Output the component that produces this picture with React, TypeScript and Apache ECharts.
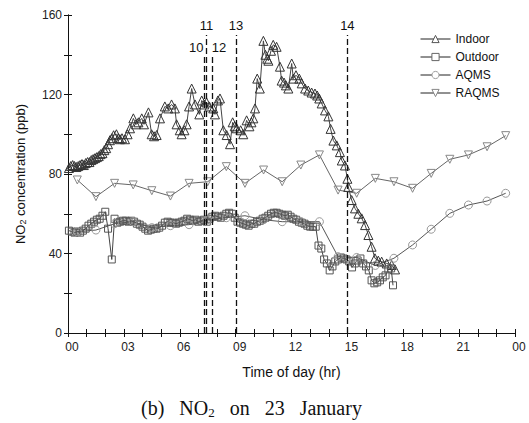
import React, { useEffect, useRef } from "react";
import * as echarts from "echarts";

// time of day (h), NO2 (ppb)
const indoor: [number, number][] = [
  [0.05, 83], [0.15, 84], [0.25, 84.5], [0.35, 84], [0.45, 83.5], [0.55, 84], [0.65, 84.5], [0.75, 85],
  [0.85, 84.5], [0.95, 85.5], [1.05, 86], [1.15, 86], [1.25, 87], [1.35, 87.5], [1.45, 88], [1.55, 88.5],
  [1.65, 89], [1.75, 90], [1.85, 90.5], [1.95, 92], [2.05, 93], [2.15, 95], [2.25, 97], [2.35, 98],
  [2.45, 99.5], [2.6, 100], [2.7, 98], [2.79, 97.5], [2.9, 98], [3.06, 97.5], [3.2, 100], [3.33, 103],
  [3.51, 108], [3.65, 105], [3.78, 106], [3.96, 108], [4.08, 105], [4.32, 111], [4.49, 100], [4.62, 99],
  [4.76, 99.6], [4.94, 108], [5.2, 114], [5.38, 113], [5.56, 115], [5.74, 113], [5.83, 105], [6.0, 102],
  [6.1, 100], [6.25, 102], [6.37, 105], [6.5, 114], [6.64, 123], [6.82, 115], [7.05, 110], [7.18, 117],
  [7.32, 115], [7.44, 116], [7.59, 114], [7.8, 113], [7.89, 110], [8.05, 117], [8.16, 118], [8.34, 102],
  [8.52, 99.6], [8.7, 95], [8.84, 106], [8.95, 104], [9.06, 103], [9.27, 102], [9.41, 100], [9.59, 107],
  [9.74, 104], [9.85, 106], [9.95, 108], [10.04, 113], [10.16, 128], [10.3, 123], [10.49, 147], [10.6, 140],
  [10.7, 138], [10.76, 137], [10.9, 142], [11.02, 145], [11.2, 144], [11.38, 134], [11.47, 127], [11.6, 126],
  [11.7, 124.6], [11.83, 123], [12.01, 135.6], [12.1, 128], [12.24, 129.7], [12.42, 128], [12.55, 125.6],
  [12.73, 123], [12.9, 122], [13.08, 121], [13.26, 120.5], [13.38, 119.5], [13.49, 118], [13.62, 115.5],
  [13.8, 112], [13.98, 109], [14.1, 102.7], [14.25, 96.8], [14.43, 94.4], [14.6, 91], [14.7, 86.8],
  [14.87, 84.3], [15.0, 77.6], [15.05, 73.5], [15.23, 66.9], [15.41, 62.7], [15.59, 60], [15.77, 57.7],
  [15.95, 54.3], [16.13, 49.3], [16.3, 43.4], [16.48, 37.6], [16.66, 36.4], [16.84, 35.9], [17.11, 35],
  [17.38, 34.2], [17.56, 32],
];

const outdoor: [number, number][] = [
  [0.05, 51.5], [0.2, 51], [0.35, 50.5], [0.5, 51], [0.65, 50.5], [0.8, 51.5], [0.95, 52.5], [1.1, 54],
  [1.25, 55], [1.4, 56], [1.55, 57], [1.7, 57.5], [1.85, 59], [2.0, 61], [2.15, 52.5], [2.35, 37],
  [2.5, 57.5], [2.65, 55.5], [2.8, 56], [2.95, 56.5], [3.1, 56.5], [3.25, 56], [3.4, 56.5], [3.55, 56],
  [3.7, 55], [3.85, 54.5], [4.0, 53.5], [4.15, 52.5], [4.3, 51.5], [4.45, 52], [4.6, 52.5], [4.75, 52.5],
  [4.9, 53], [5.05, 54], [5.2, 55.5], [5.35, 56], [5.5, 55.5], [5.65, 55.5], [5.8, 55], [5.95, 55.5],
  [6.1, 56], [6.25, 56.5], [6.4, 57.5], [6.55, 57], [6.7, 56.5], [6.85, 57], [7.0, 56], [7.15, 56.5],
  [7.3, 57], [7.45, 56], [7.6, 57.5], [7.75, 58.5], [7.9, 59], [8.05, 58.5], [8.2, 58], [8.35, 59],
  [8.5, 60], [8.65, 60.5], [8.8, 60], [8.95, 58], [9.1, 56], [9.25, 55.5], [9.4, 55], [9.55, 54.5],
  [9.7, 54], [9.85, 55], [10.0, 55], [10.15, 56], [10.3, 56.5], [10.45, 57.5], [10.6, 58], [10.75, 59],
  [10.9, 60], [11.05, 60.5], [11.2, 60.5], [11.35, 60], [11.5, 59.5], [11.65, 59], [11.8, 59.5],
  [11.95, 58.5], [12.1, 57.5], [12.25, 57], [12.4, 56], [12.55, 55.5], [12.7, 55], [12.85, 54],
  [13.0, 53.5], [13.15, 53.5], [13.3, 53.5], [13.45, 44], [13.6, 42.5], [13.75, 37], [13.9, 35],
  [14.05, 31.5], [14.2, 33.5], [14.35, 36], [14.5, 37], [14.65, 38], [14.8, 37.5], [14.95, 37],
  [15.1, 36], [15.25, 33], [15.4, 35], [15.55, 36.5], [15.7, 37.5], [15.85, 35], [16.0, 33.5],
  [16.15, 31.5], [16.3, 26.5], [16.45, 25], [16.6, 25.5], [16.75, 26.5], [16.9, 28], [17.05, 29],
  [17.2, 32], [17.35, 32.5], [17.45, 24],
];

const aqms: [number, number][] = [
  [0.5, 51], [1.5, 51.8], [2.5, 55], [3.5, 56], [4.5, 53], [5.5, 54], [6.5, 54.5], [7.5, 57],
  [8.5, 58], [9.5, 59], [10.5, 57], [11.5, 56], [12.5, 56], [13.5, 56], [14.5, 38.4], [15.5, 38],
  [16.5, 34], [17.5, 37.6], [18.5, 44.3], [19.5, 52.2], [20.5, 60.2], [21.5, 64.4], [22.5, 66.4],
  [23.5, 70.3],
];

const raqms: [number, number][] = [
  [0.5, 77], [1.5, 68.6], [2.5, 75.3], [3.5, 74.5], [4.5, 71.6], [5.5, 68.9], [6.5, 75.3], [7.5, 76.1],
  [8.5, 83.7], [9.5, 75.3], [10.5, 82], [11.5, 76.1], [12.5, 84.5], [13.5, 89.6], [14.5, 71.9],
  [15.5, 70.3], [16.5, 77.8], [17.5, 76.1], [18.5, 72.8], [19.5, 80.3], [20.5, 87.4], [21.5, 89.6],
  [22.5, 93.7], [23.5, 99.3],
];

// vertical event markers: label, time (h), top of line (ppb)
const eventLabels = ["10", "11", "12", "13", "14"];
const eventTimes = [7.32, 7.44, 7.73, 9.02, 15.0];
const eventTops = [139, 150, 139, 150, 150];
const eventLabelPad = [[0, 16, 0, 0], [0, 0, 0, 0], [0, 0, 0, 14], [0, 0, 0, 0], [0, 0, 0, 0]];

const seriesNames = ["Indoor", "Outdoor", "AQMS", "RAQMS"];
const markerBorders = ["#555", "#666", "#999", "#888"];
const xTickLabels = ["00", "03", "06", "09", "12", "15", "18", "21", "00"];
const yTickLabels = ["0", "40", "80", "120", "160"];

export default function App() {
  const ref = useRef<HTMLDivElement>(null);
  useEffect(() => {
    if (!ref.current) return;
    const chart = echarts.init(ref.current, undefined, { renderer: "svg" });
    const font = "Liberation Sans, Arial, sans-serif";
    const clear = "rgba(255,255,255,0)";
    const markLineData = eventTimes.map((t, i) => [
      { coord: [t, 0] },
      {
        coord: [t, eventTops[i]],
        label: {
          show: true,
          position: "end",
          formatter: eventLabels[i],
          padding: eventLabelPad[i],
          distance: 3,
          color: "#111",
          fontSize: 13,
          fontFamily: font,
        },
      },
    ]);
    const mk = (name: string, data: any, symbol: string, size: number, border: string, line: string, rotate = 0, extra: any = {}) => ({
      name,
      type: "line",
      data,
      symbol,
      symbolSize: size,
      symbolRotate: rotate,
      showAllSymbol: true,
      color: line,
      lineStyle: { color: line, width: 1 },
      itemStyle: { color: clear, borderColor: border, borderWidth: 1 },
      emphasis: { disabled: true },
      z: 3,
      ...extra,
    });
    chart.setOption({
      animation: false,
      textStyle: { fontFamily: font },
      title: {
        text: "(b)   NO{sub|2}   on   23   January",
        left: 136,
        top: 392,
        textStyle: {
          fontFamily: "Liberation Serif, Times New Roman, serif",
          fontSize: 20,
          lineHeight: 22,
          fontWeight: "normal",
          color: "#111",
          rich: {
            sub: { fontFamily: "Liberation Serif, serif", fontSize: 13, lineHeight: 22, verticalAlign: "bottom", padding: [7, 0, 0, 0], color: "#111" },
          },
        },
      },
      legend: {
        left: 415,
        top: 28,
        orient: "vertical",
        itemWidth: 30,
        itemHeight: 9,
        itemGap: 6,
        textStyle: { fontSize: 12, color: "#111", fontFamily: font },
        data: seriesNames.map((n, i) => ({
          name: n,
          itemStyle: { color: "#fff", borderColor: markerBorders[i], borderWidth: 1 },
          lineStyle: { color: "#222", width: 1 },
        })),
      },
      grid: { left: 68, right: 14, top: 15, bottom: 90 },
      xAxis: [
        {
          type: "value",
          min: 0,
          max: 24,
          interval: 1,
          position: "bottom",
          name: "Time of day (hr)",
          nameLocation: "middle",
          nameGap: 32,
          nameTextStyle: { fontSize: 14, color: "#111", fontFamily: font },
          axisLine: { lineStyle: { color: "#111", width: 1 } },
          axisTick: { inside: true, length: 4, lineStyle: { color: "#111" } },
          axisLabel: {
            fontSize: 12,
            color: "#222",
            margin: 8,
            padding: [0, 0, 0, 8],
            formatter: (v: number) => (v % 3 === 0 ? xTickLabels[v / 3] : ""),
          },
          splitLine: { show: false },
        },
        {
          type: "value",
          min: 0,
          max: 24,
          interval: 1,
          position: "top",
          axisLine: { lineStyle: { color: "#111", width: 1 } },
          axisTick: { inside: true, length: 4, lineStyle: { color: "#111" } },
          axisLabel: { show: false },
          splitLine: { show: false },
        },
      ],
      yAxis: [
        {
          type: "value",
          min: 0,
          max: 160,
          interval: 20,
          position: "left",
          name: "NO{sub|2} concentration (ppb)",
          nameLocation: "middle",
          nameGap: 41,
          nameTextStyle: {
            fontSize: 13,
            color: "#111",
            fontFamily: font,
            rich: { sub: { fontSize: 9, verticalAlign: "bottom", padding: [5, 0, 0, 0], color: "#111" } },
          },
          axisLine: { show: true, lineStyle: { color: "#111", width: 1 } },
          axisTick: { show: true, inside: true, length: 4, lineStyle: { color: "#111" } },
          axisLabel: {
            fontSize: 12,
            color: "#222",
            margin: 6,
            formatter: (v: number) => (v % 40 === 0 ? yTickLabels[v / 40] : ""),
          },
          splitLine: { show: false },
        },
        {
          type: "value",
          min: 0,
          max: 160,
          interval: 20,
          position: "right",
          axisLine: { show: true, lineStyle: { color: "#111", width: 1 } },
          axisTick: { show: true, inside: true, length: 4, lineStyle: { color: "#111" } },
          axisLabel: { show: false },
          splitLine: { show: false },
        },
      ],
      series: [
        mk("Indoor", indoor, "triangle", 9, "#333", "#444", 0, {
          markLine: {
            silent: true,
            symbol: ["none", "none"],
            lineStyle: { color: "#111", type: [6, 3], width: 1.3 },
            label: { show: false },
            data: markLineData,
          },
        }),
        mk("Outdoor", outdoor, "rect", 7, "#555", "#444"),
        mk("AQMS", aqms, "circle", 8, "#999", "#555"),
        mk("RAQMS", raqms, "triangle", 8, "#888", "#666", 180),
      ],
    });
    return () => chart.dispose();
  }, []);
  return <div ref={ref} style={{ position: "absolute", left: 0, top: 0, width: 529, height: 423 }} />;
}
